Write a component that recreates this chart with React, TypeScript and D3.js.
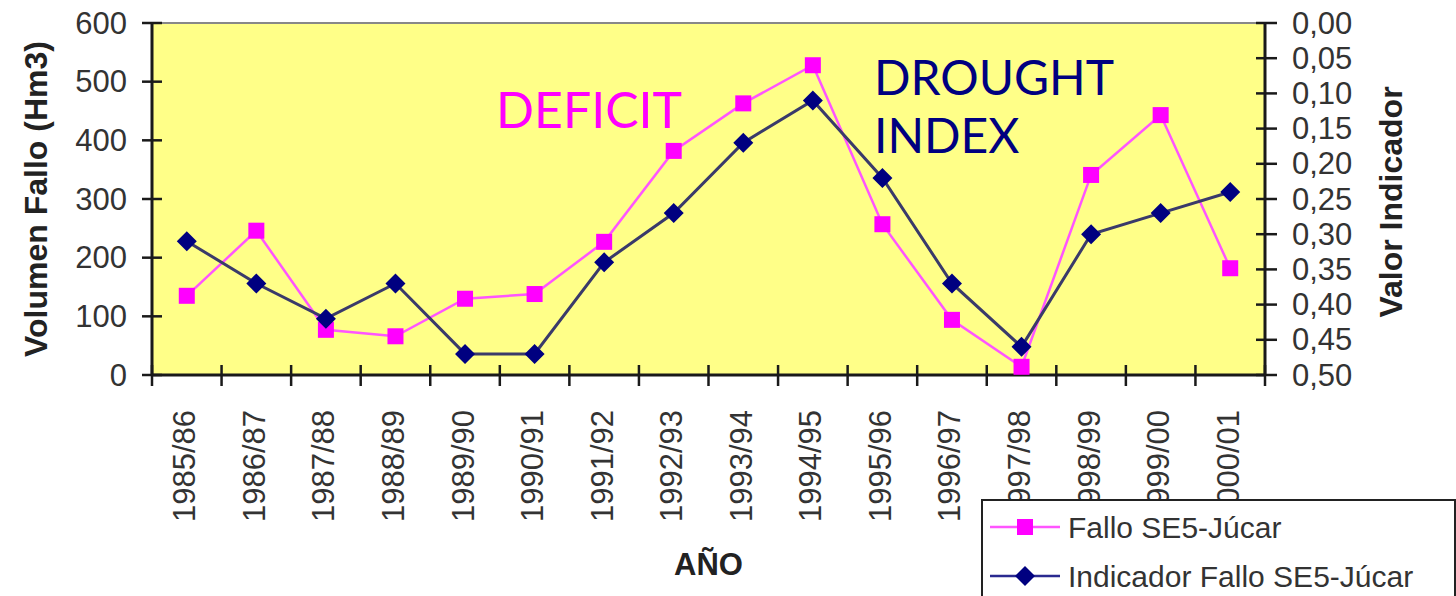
import React from "react";
import * as d3 from "d3";

// Hydrological years on the category axis
const categories = [
  "1985/86", "1986/87", "1987/88", "1988/89", "1989/90", "1990/91",
  "1991/92", "1992/93", "1993/94", "1994/95", "1995/96", "1996/97",
  "1997/98", "1998/99", "1999/00", "2000/01",
];

// Supply failure volume, Hm3 (left axis)
const falloValues = [135, 246, 77, 66, 130, 138, 227, 382, 463, 528, 257, 94, 14, 341, 443, 182];

// Drought indicator value (right axis, inverted)
const indicadorValues = [0.31, 0.37, 0.42, 0.37, 0.47, 0.47, 0.34, 0.27, 0.17, 0.11, 0.22, 0.37, 0.46, 0.30, 0.27, 0.24];

const leftTicks = [0, 100, 200, 300, 400, 500, 600];
const rightTicks = [0, 0.05, 0.1, 0.15, 0.2, 0.25, 0.3, 0.35, 0.4, 0.45, 0.5];

const W = 1456;
const H = 596;
const plot = { left: 152, right: 1265, top: 23, bottom: 375 };

const PINK = "#ff00ff";
const NAVY = "#000080";
const AXIS_FONT = "'Liberation Sans', Arial, sans-serif";
const ANNOT_FONT = "Lato, 'Open Sans', sans-serif";

export default function App() {
  const x = d3.scaleBand<string>().domain(categories).range([plot.left, plot.right]);
  const yLeft = d3.scaleLinear().domain([0, 600]).range([plot.bottom, plot.top]);
  const yRight = d3.scaleLinear().domain([0, 0.5]).range([plot.top, plot.bottom]);
  const cx = (c: string) => (x(c) ?? 0) + x.bandwidth() / 2;

  const falloLine = d3
    .line<number>()
    .x((_, i) => cx(categories[i]))
    .y((d) => yLeft(d))(falloValues) ?? "";
  const indLine = d3
    .line<number>()
    .x((_, i) => cx(categories[i]))
    .y((d) => yRight(d))(indicadorValues) ?? "";

  const fmtRight = (v: number) => d3.format(".2f")(v).replace(".", ",");
  const boundaries = d3.range(categories.length + 1).map((i) => plot.left + i * x.step());

  const sq = 16;
  const dia = 10;
  const diamond = (px: number, py: number) =>
    `M${px},${py - dia}L${px + dia},${py}L${px},${py + dia}L${px - dia},${py}Z`;

  return (
    <svg
      width={W}
      height={H}
      style={{ position: "absolute", left: 0, top: 0, background: "#fff" }}
    >
      {/* plot area */}
      <rect
        x={plot.left}
        y={plot.top}
        width={plot.right - plot.left}
        height={plot.bottom - plot.top}
        fill="#ffff88"
      />
      <line x1={plot.left} x2={plot.right} y1={plot.top} y2={plot.top} stroke="#888" strokeWidth={2} />

      {/* left axis */}
      <line x1={plot.left} x2={plot.left} y1={plot.top} y2={plot.bottom} stroke="#1a1a1a" strokeWidth={3} />
      {leftTicks.map((t) => (
        <g key={"l" + t}>
          <line x1={plot.left - 10} x2={plot.left + 10} y1={yLeft(t)} y2={yLeft(t)} stroke="#1a1a1a" strokeWidth={2.5} />
          <text
            x={127}
            y={yLeft(t)}
            textAnchor="end"
            dominantBaseline="central"
            fontFamily={AXIS_FONT}
            fontSize={31}
            fill="#333"
          >
            {t}
          </text>
        </g>
      ))}

      {/* right axis */}
      <line x1={plot.right} x2={plot.right} y1={plot.top} y2={plot.bottom} stroke="#1a1a1a" strokeWidth={3} />
      {rightTicks.map((t) => (
        <g key={"r" + t}>
          <line x1={plot.right - 9} x2={plot.right + 12} y1={yRight(t)} y2={yRight(t)} stroke="#1a1a1a" strokeWidth={2.5} />
          <text
            x={1292}
            y={yRight(t)}
            textAnchor="start"
            dominantBaseline="central"
            fontFamily={AXIS_FONT}
            fontSize={31}
            fill="#333"
          >
            {fmtRight(t)}
          </text>
        </g>
      ))}

      {/* category axis */}
      <line x1={plot.left} x2={plot.right} y1={plot.bottom} y2={plot.bottom} stroke="#1a1a1a" strokeWidth={3} />
      {boundaries.map((bx, i) => (
        <line key={"b" + i} x1={bx} x2={bx} y1={plot.bottom - 10} y2={plot.bottom + 11} stroke="#1a1a1a" strokeWidth={2.5} />
      ))}
      {categories.map((c) => (
        <text
          key={c}
          transform={`translate(${cx(c) - 2},${410}) rotate(-90)`}
          textAnchor="end"
          dominantBaseline="central"
          fontFamily={AXIS_FONT}
          fontSize={31}
          fill="#333"
        >
          {c}
        </text>
      ))}

      {/* axis titles */}
      <text
        transform={`translate(36,${(plot.top + plot.bottom) / 2}) rotate(-90)`}
        textAnchor="middle"
        dominantBaseline="central"
        fontFamily={AXIS_FONT}
        fontWeight="bold"
        fontSize={32}
        fill="#222"
      >
        Volumen Fallo (Hm3)
      </text>
      <text
        transform={`translate(1391,${(plot.top + plot.bottom) / 2 + 3}) rotate(-90)`}
        textAnchor="middle"
        dominantBaseline="central"
        fontFamily={AXIS_FONT}
        fontWeight="bold"
        fontSize={32}
        fill="#222"
      >
        Valor Indicador
      </text>
      <text
        x={(plot.left + plot.right) / 2}
        y={575}
        textAnchor="middle"
        fontFamily={AXIS_FONT}
        fontWeight="bold"
        fontSize={31}
        fill="#222"
      >
        AÑO
      </text>

      {/* series */}
      <path d={falloLine} fill="none" stroke="#ff55ff" strokeWidth={2.5} />
      <path d={indLine} fill="none" stroke="#3a3a6a" strokeWidth={3} />
      {falloValues.map((v, i) => (
        <rect
          key={"s" + i}
          x={cx(categories[i]) - sq / 2}
          y={yLeft(v) - sq / 2}
          width={sq}
          height={sq}
          fill={PINK}
        />
      ))}
      {indicadorValues.map((v, i) => (
        <path key={"d" + i} d={diamond(cx(categories[i]), yRight(v))} fill={NAVY} />
      ))}

      {/* annotations */}
      <text x={496} y={128} fontFamily={ANNOT_FONT} fontSize={50} fill={PINK}>
        DEFICIT
      </text>
      <text x={874} y={95} fontFamily={ANNOT_FONT} fontSize={48} fill={NAVY}>
        DROUGHT
      </text>
      <text x={874} y={153} fontFamily={ANNOT_FONT} fontSize={48} fill={NAVY}>
        INDEX
      </text>

      {/* legend */}
      <rect x={982} y={500} width={473} height={110} fill="#fff" stroke="#222" strokeWidth={2} />
      <line x1={990} x2={1060} y1={527} y2={527} stroke="#ff55ff" strokeWidth={2.5} />
      <rect x={1025 - sq / 2} y={527 - sq / 2} width={sq} height={sq} fill={PINK} />
      <text x={1068} y={538} fontFamily={AXIS_FONT} fontSize={30} fill="#333">
        Fallo SE5-Júcar
      </text>
      <line x1={990} x2={1060} y1={576} y2={576} stroke="#2a2a90" strokeWidth={2.5} />
      <path d={diamond(1025, 576)} fill={NAVY} />
      <text x={1068} y={587} fontFamily={AXIS_FONT} fontSize={30} fill="#333">
        Indicador Fallo SE5-Júcar
      </text>
    </svg>
  );
}
